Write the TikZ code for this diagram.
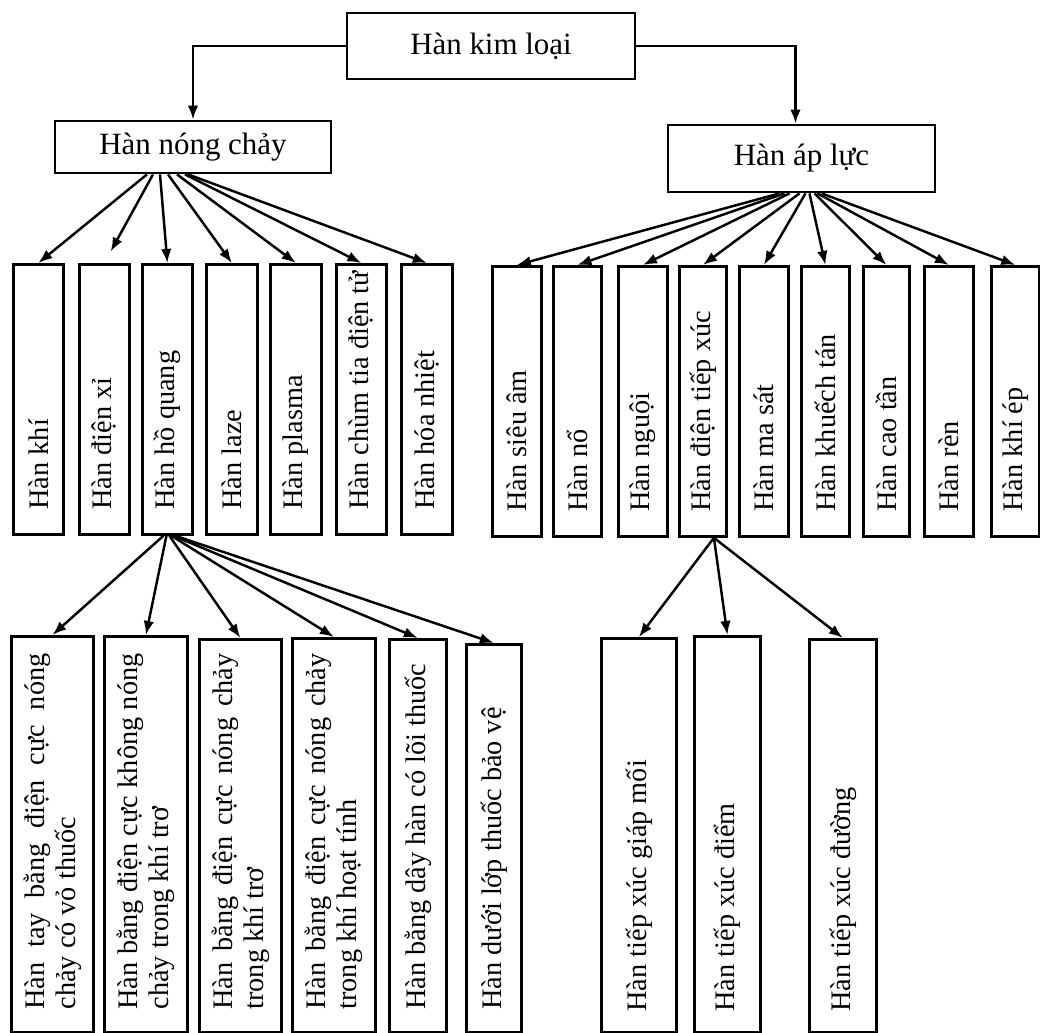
\documentclass[tikz,border=0pt]{standalone}
\usepackage{fontspec}
\setmainfont{Liberation Serif}
\usetikzlibrary{arrows.meta}
\newlength{\px}
\setlength{\px}{0.02cm}
\tolerance=10000
\hbadness=10000
\tikzset{
  frame/.style={draw, line width=1.6pt, inner sep=0pt},
  hdr/.style={frame, font=\fontsize{17.6}{20}\selectfont},
  vtext/.style={rotate=90, anchor=west, inner sep=0pt, align=left, font=\fontsize{16.1}{17.6}\selectfont},
  vpar/.style={text width=356\px, align=justify},
  link/.style={line width=1.4pt, -{Latex[length=8pt,width=6pt]}}
}
\newcommand{\weldbox}[8]{
\node[frame, anchor=north west, minimum width=#4\px, minimum height=#5\px] (#1) at (#2,#3) {};
\node[vtext, #7] (#1-t) at ([yshift=#6\px]#1.south) {#8};
}
\begin{document}
\begin{tikzpicture}[x=0.02cm, y=-0.02cm]
\useasboundingbox (0,0) rectangle (1040,1033);

\node[hdr, minimum width=288\px, minimum height=66\px] (kim) at (491,46) {Hàn kim loại};
\node[hdr, minimum width=276\px, minimum height=52\px] (nong) at (193,147) {Hàn nóng chảy};
\node[hdr, minimum width=267\px, minimum height=67\px] (apluc) at (801.5,158.5) {Hàn áp lực};

\draw[link] (kim.west) -| (nong.north);
\draw[link] (kim.east) -| ([xshift=-6\px]apluc.north);

\weldbox{khi}{12}{263}{50}{270}{26}{}{Hàn khí}
\weldbox{dienxi}{78}{263}{50}{270}{26}{}{Hàn điện xỉ}
\weldbox{hoquang}{141}{263}{50}{270}{26}{}{Hàn hồ quang}
\weldbox{laze}{205}{263}{51}{270}{26}{}{Hàn laze}
\weldbox{plasma}{269}{263}{51}{270}{26}{}{Hàn plasma}
\weldbox{chum}{335}{263}{50}{270}{26}{}{Hàn chùm tia điện tử}
\weldbox{hoanhiet}{400}{263}{51}{270}{26}{}{Hàn hóa nhiệt}

\weldbox{sieuam}{491}{265}{49}{270}{26}{}{Hàn siêu âm}
\weldbox{no}{552}{265}{48}{270}{26}{}{Hàn nổ}
\weldbox{nguoi}{617}{265}{49}{270}{26}{}{Hàn nguội}
\weldbox{tiepxuc}{678}{265}{47}{270}{26}{}{Hàn điện tiếp xúc}
\weldbox{masat}{738}{265}{49}{270}{26}{}{Hàn ma sát}
\weldbox{khuechtan}{800}{265}{48}{270}{26}{}{Hàn khuếch tán}
\weldbox{caotan}{862}{265}{46}{270}{26}{}{Hàn cao tần}
\weldbox{ren}{923}{265}{49}{270}{26}{}{Hàn rèn}
\weldbox{khiep}{990}{265}{48}{270}{26}{}{Hàn khí ép}

\weldbox{tay}{10}{635}{82}{396}{24}{vpar}{Hàn tay bằng điện cực nóng\linebreak chảy có vỏ thuốc}
\weldbox{khongnong}{103}{635}{83}{396}{24}{vpar}{Hàn bằng điện cực không nóng\linebreak chảy trong khí trơ}
\weldbox{nongtro}{198}{638}{82}{393}{24}{vpar}{Hàn bằng điện cực nóng chảy\linebreak trong khí trơ}
\weldbox{hoattinh}{291}{637}{83}{394}{24}{vpar}{Hàn bằng điện cực nóng chảy\linebreak trong khí hoạt tính}
\weldbox{loithuoc}{388}{638}{57}{393}{24}{}{Hàn bằng dây hàn có lõi thuốc}
\weldbox{lopthuoc}{465}{643}{55}{388}{24}{}{Hàn dưới lớp thuốc bảo vệ}

\weldbox{giapmoi}{600}{637}{75}{394}{22}{}{Hàn tiếp xúc giáp mối}
\weldbox{diem}{693}{635}{66}{396}{22}{}{Hàn tiếp xúc điểm}
\weldbox{duong}{808}{638}{67}{393}{22}{}{Hàn tiếp xúc đường}

\foreach \child/\dx/\gap in {khi/-46/0, dienxi/-40/13, hoquang/-33/0, laze/-25/0, plasma/-16/0, chum/-8/0, hoanhiet/-5/0}
  \draw[link, shorten >=\gap\px] ([xshift=\dx\px]nong.south) -- (\child.north);

\foreach \child/\dx in {sieuam/-22, no/-17, nguoi/-12, tiepxuc/-2, masat/4, khuechtan/8, caotan/13, ren/16, khiep/20}
  \draw[link] ([xshift=\dx\px]apluc.south) -- (\child.north);

\foreach \child/\dx in {tay/-4, khongnong/-1, nongtro/2, hoattinh/4, loithuoc/6, lopthuoc/8}
  \draw[link] ([xshift=\dx\px]hoquang.south) -- (\child.north);

\foreach \child in {giapmoi, diem, duong}
  \draw[link] ([xshift=11\px]tiepxuc.south) -- (\child.north);

\end{tikzpicture}
\end{document}
